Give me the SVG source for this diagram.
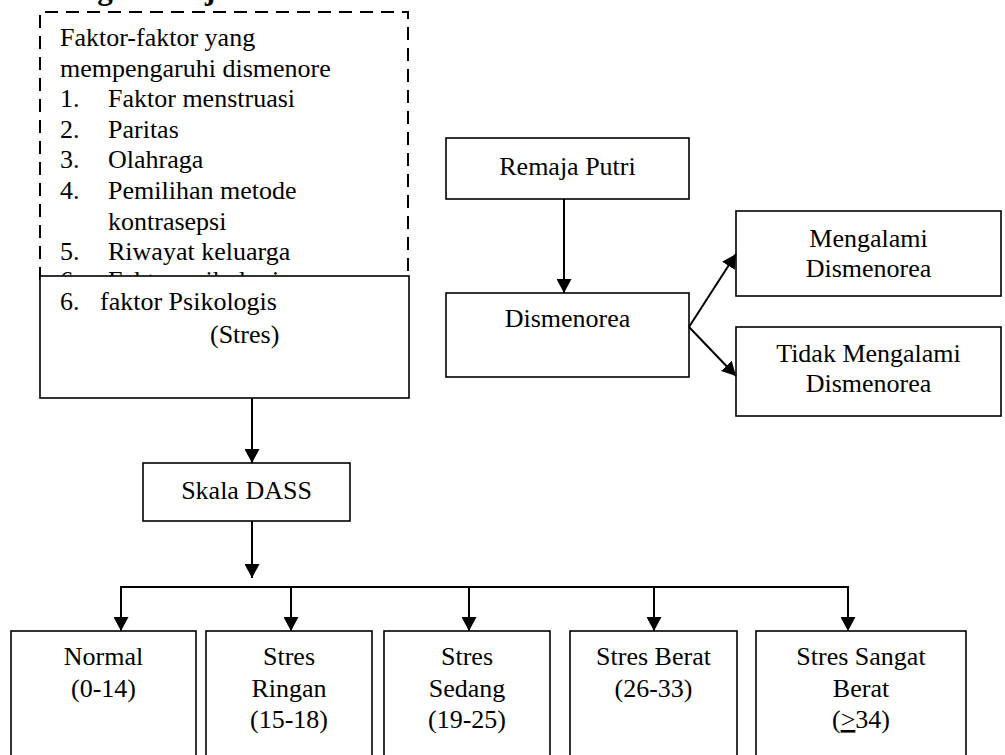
<svg xmlns="http://www.w3.org/2000/svg" width="1005" height="755" viewBox="0 0 1005 755" font-family="Liberation Serif, Times New Roman, serif">
<defs>
<style>
text{font-family:'Liberation Serif','Times New Roman',serif}
.t{font-size:26px;fill:#000}
.c{text-anchor:middle}
.h{font-size:31px;font-weight:bold;fill:#000}
.box{fill:#fff;stroke:#000;stroke-width:1.6}
.dash{fill:#fff;stroke:#000;stroke-width:2;stroke-dasharray:13 8}
.ln{fill:none;stroke:#000;stroke-width:2}
</style>
<marker id="ah" viewBox="0 0 14 15" refX="14" refY="7.5" markerWidth="14" markerHeight="15" markerUnits="userSpaceOnUse" orient="auto">
<path d="M0,0 L14,7.5 L0,15 z" fill="#000"/>
</marker>
<clipPath id="cutTop"><rect x="0" y="0" width="1005" height="276"/></clipPath>
</defs>
<rect width="1005" height="755" fill="#fff"/>
<text class="h" x="13" y="-1" font-family="Liberation Serif, serif">Kerangka Kerja</text>

<g id="faktor" font-family="Liberation Serif, serif">
<rect x="40" y="12" width="368" height="264" fill="#fff"/>
<path class="dash" d="M40,280 V12 H408 V280" fill="none"/>
<text class="t" x="60" y="46">Faktor-faktor yang</text>
<text class="t" x="60" y="76.6">mempengaruhi dismenore</text>
<text class="t" x="60" y="107.2">1.</text><text class="t" x="108" y="107.2">Faktor menstruasi</text>
<text class="t" x="60" y="137.8">2.</text><text class="t" x="108" y="137.8">Paritas</text>
<text class="t" x="60" y="168.4">3.</text><text class="t" x="108" y="168.4">Olahraga</text>
<text class="t" x="60" y="199">4.</text><text class="t" x="108" y="199">Pemilihan metode</text>
<text class="t" x="108" y="229.6">kontrasepsi</text>
<text class="t" x="60" y="260.2">5.</text><text class="t" x="108" y="260.2">Riwayat keluarga</text>
<g clip-path="url(#cutTop)">
<text class="t" x="60" y="289">6.</text><text class="t" x="108" y="289">Faktor psikologis</text>
</g>
</g>

<g id="psikologis" font-family="Liberation Serif, serif">
<rect class="box" x="40" y="276" width="369" height="122"/>
<text class="t" x="60" y="310">6.</text><text class="t" x="100" y="310">faktor Psikologis</text>
<text class="t" x="210" y="343">(Stres)</text>
</g>

<g id="dass" font-family="Liberation Serif, serif">
<rect class="box" x="143" y="463" width="207" height="58"/>
<text class="t c" x="246.5" y="499">Skala DASS</text>
</g>

<g id="remaja" font-family="Liberation Serif, serif">
<rect class="box" x="446" y="138" width="243" height="61"/>
<text class="t c" x="567.5" y="175">Remaja Putri</text>
</g>

<g id="dismenorea" font-family="Liberation Serif, serif">
<rect class="box" x="446" y="293" width="243" height="84"/>
<text class="t c" x="567.5" y="327">Dismenorea</text>
</g>

<g id="mengalami" font-family="Liberation Serif, serif">
<rect class="box" x="736" y="211" width="265" height="85"/>
<text class="t c" x="868.5" y="247">Mengalami</text>
<text class="t c" x="868.5" y="277">Dismenorea</text>
</g>

<g id="tidak" font-family="Liberation Serif, serif">
<rect class="box" x="736" y="327" width="265" height="89"/>
<text class="t c" x="868.5" y="362">Tidak Mengalami</text>
<text class="t c" x="868.5" y="392">Dismenorea</text>
</g>

<g id="normal" font-family="Liberation Serif, serif">
<rect class="box" x="11" y="631" width="185" height="140"/>
<text class="t c" x="103.5" y="665">Normal</text>
<text class="t c" x="103.5" y="696.5">(0-14)</text>
</g>

<g id="ringan" font-family="Liberation Serif, serif">
<rect class="box" x="206" y="631" width="166" height="140"/>
<text class="t c" x="289" y="665">Stres</text>
<text class="t c" x="289" y="696.5">Ringan</text>
<text class="t c" x="289" y="728">(15-18)</text>
</g>

<g id="sedang" font-family="Liberation Serif, serif">
<rect class="box" x="384" y="631" width="166" height="140"/>
<text class="t c" x="467" y="665">Stres</text>
<text class="t c" x="467" y="696.5">Sedang</text>
<text class="t c" x="467" y="728">(19-25)</text>
</g>

<g id="berat" font-family="Liberation Serif, serif">
<rect class="box" x="570" y="631" width="167" height="140"/>
<text class="t c" x="653.5" y="665">Stres Berat</text>
<text class="t c" x="653.5" y="696.5">(26-33)</text>
</g>

<g id="sangat-berat" font-family="Liberation Serif, serif">
<rect class="box" x="756" y="631" width="210" height="140"/>
<text class="t c" x="861" y="665">Stres Sangat</text>
<text class="t c" x="861" y="696.5">Berat</text>
<text class="t c" x="861" y="728">(<tspan text-decoration="underline">&gt;</tspan>34)</text>
</g>

<g id="connectors">
<line class="ln" x1="252" y1="398" x2="252" y2="463" marker-end="url(#ah)"/>
<line class="ln" x1="252" y1="521" x2="252" y2="578" marker-end="url(#ah)"/>
<line class="ln" x1="121" y1="587" x2="848" y2="587"/>
<line class="ln" x1="121" y1="586" x2="121" y2="631" marker-end="url(#ah)"/>
<line class="ln" x1="291" y1="586" x2="291" y2="631" marker-end="url(#ah)"/>
<line class="ln" x1="469" y1="586" x2="469" y2="631" marker-end="url(#ah)"/>
<line class="ln" x1="654" y1="586" x2="654" y2="631" marker-end="url(#ah)"/>
<line class="ln" x1="848" y1="586" x2="848" y2="631" marker-end="url(#ah)"/>
<line class="ln" x1="564" y1="199" x2="564" y2="293" marker-end="url(#ah)"/>
<line class="ln" x1="689" y1="327" x2="736" y2="254" marker-end="url(#ah)"/>
<line class="ln" x1="689" y1="327" x2="736" y2="376" marker-end="url(#ah)"/>
</g>
</svg>
